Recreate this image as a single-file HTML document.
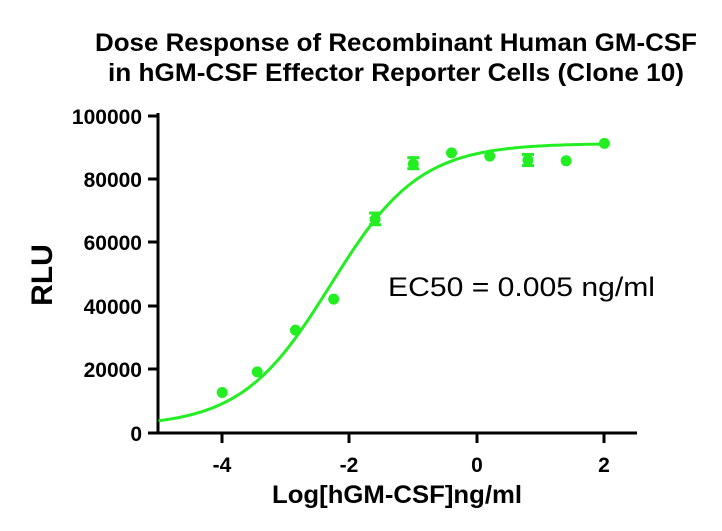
<!DOCTYPE html>
<html><head><style>html,body{margin:0;padding:0;background:#fff}svg{display:block}</style></head>
<body>
<svg id="s" width="722" height="531" xmlns="http://www.w3.org/2000/svg" font-family="Liberation Sans, Arial, sans-serif">
<text x="396" y="51" font-size="25" font-weight="bold" text-anchor="middle" textLength="602" lengthAdjust="spacingAndGlyphs">Dose Response of Recombinant Human GM-CSF</text>
<text x="396" y="81" font-size="25" font-weight="bold" text-anchor="middle" textLength="576" lengthAdjust="spacingAndGlyphs">in hGM-CSF Effector Reporter Cells (Clone 10)</text>
<g stroke="#000" stroke-width="3" fill="none">
<line x1="158" y1="113" x2="158" y2="434"/>
<line x1="156" y1="433" x2="637" y2="433"/>
<line x1="148" y1="116" x2="158" y2="116"/>
<line x1="148" y1="179" x2="158" y2="179"/>
<line x1="148" y1="242" x2="158" y2="242"/>
<line x1="148" y1="306" x2="158" y2="306"/>
<line x1="148" y1="369" x2="158" y2="369"/>
<line x1="148" y1="433" x2="158" y2="433"/>
<line x1="222" y1="433" x2="222" y2="443"/>
<line x1="349" y1="433" x2="349" y2="443"/>
<line x1="477" y1="433" x2="477" y2="443"/>
<line x1="604" y1="433" x2="604" y2="443"/>
</g>
<g font-size="21" font-weight="bold" text-anchor="end">
<text x="142" y="124">100000</text>
<text x="142" y="187">80000</text>
<text x="142" y="250">60000</text>
<text x="142" y="314">40000</text>
<text x="142" y="377">20000</text>
<text x="142" y="441">0</text>
</g>
<g font-size="21" font-weight="bold" text-anchor="middle">
<text x="222" y="472">-4</text>
<text x="349" y="472">-2</text>
<text x="477" y="472">0</text>
<text x="604" y="472">2</text>
</g>
<text x="397" y="503" font-size="25" font-weight="bold" text-anchor="middle" textLength="250" lengthAdjust="spacingAndGlyphs">Log[hGM-CSF]ng/ml</text>
<text transform="translate(52,275) rotate(-90)" font-size="30" font-weight="bold" text-anchor="middle">RLU</text>
<text x="388" y="296" font-size="27" textLength="267" lengthAdjust="spacingAndGlyphs">EC50 = 0.005 ng/ml</text>
<path id="c" fill="none" stroke="#22ee22" stroke-width="3"/>
<g id="p" fill="#22ee22" stroke="#22ee22" stroke-width="3"></g>
</svg>
<script>
var X=function(v){return 477+v*63.7},Y=function(v){return 433-v*0.003165};
var d="";for(var i=0;i<=200;i++){var x=-5+i*7/200;var y=2000+89500/(1+Math.pow(10,(-2.3-x)*0.62));d+=(i?"L":"M")+X(x).toFixed(1)+" "+Y(y).toFixed(1);}
document.getElementById("c").setAttribute("d",d);
var pts=[[-4,12800],[-3.45,19300],[-2.85,32500],[-2.25,42300],[-1.6,67500,65800,69500],[-1,85000,83500,87000],[-0.4,88500],[0.2,87500],[0.8,86200,84500,88000],[1.4,86000],[2,91500]];
var s="";pts.forEach(function(p){var cx=X(p[0]),cy=Y(p[1]);
if(p.length>2){s+='<line x1="'+cx+'" x2="'+cx+'" y1="'+Y(p[2])+'" y2="'+Y(p[3])+'"/>';
s+='<line x1="'+(cx-6)+'" x2="'+(cx+6)+'" y1="'+Y(p[2])+'" y2="'+Y(p[2])+'"/><line x1="'+(cx-6)+'" x2="'+(cx+6)+'" y1="'+Y(p[3])+'" y2="'+Y(p[3])+'"/>';}
s+='<circle cx="'+cx+'" cy="'+cy+'" r="5.5" stroke="none"/>';});
document.getElementById("p").innerHTML=s;
</script>
</body></html>
